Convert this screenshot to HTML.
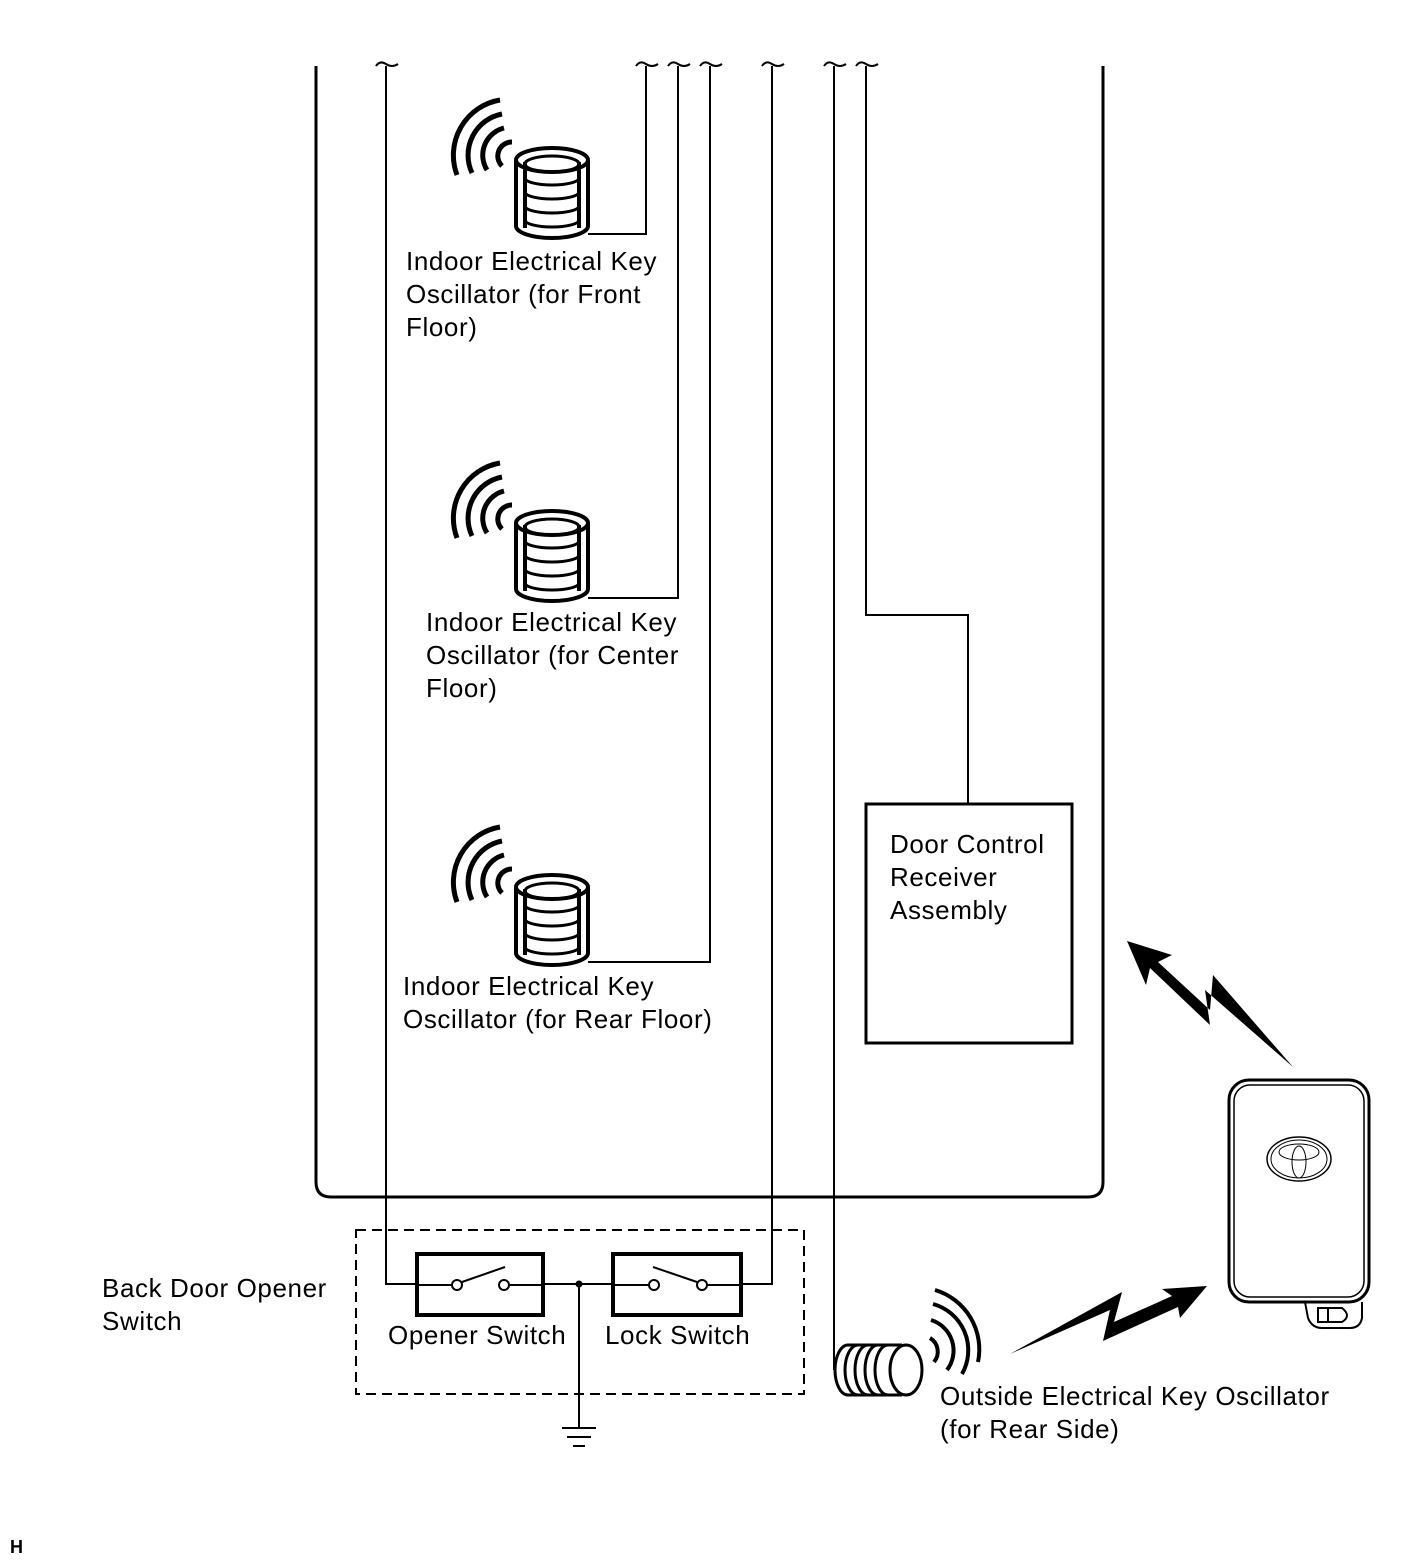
<!DOCTYPE html>
<html><head><style>
body{margin:0;background:#fff;width:1424px;height:1562px;overflow:hidden}
svg{position:absolute;left:0;top:0}
text{font-family:"Liberation Sans",Arial,sans-serif;font-size:26px;letter-spacing:0.6px;fill:#000}
</style></head><body>
<svg width="1424" height="1562" viewBox="0 0 1424 1562">
<defs>
<g id="coil" fill="none" stroke="#000">
  <path d="M-36,-40 L-36,26 A36,12 0 0 0 36,26 L36,-40" stroke-width="4" fill="#fff"/>
  <ellipse cx="0" cy="-40" rx="36" ry="12" stroke-width="4" fill="#fff"/>
  <path d="M-27,-38 L-27,28 M27,-38 L27,28" stroke-width="4"/>
  <ellipse cx="0" cy="-36" rx="27" ry="8" stroke-width="3"/>
  <path d="M-27,-22 A27,7 0 0 0 27,-22 M-27,-8 A27,7 0 0 0 27,-8 M-27,6 A27,7 0 0 0 27,6 M-27,20 A27,7 0 0 0 27,20" stroke-width="3"/>
  <path d="M-40,-58 A14,14 0 0 0 -50,-34" stroke-width="5"/>
  <path d="M-48,-72 A28,28 0 0 0 -65,-30" stroke-width="5"/>
  <path d="M-50,-86 A42,42 0 0 0 -80,-27" stroke-width="5"/>
  <path d="M-52,-100 A56,56 0 0 0 -95,-25" stroke-width="5"/>
</g>
</defs>
<g stroke="#000" fill="none" stroke-width="3">
  <path d="M316,66 L316,1182 Q316,1197 331,1197 L1088,1197 Q1103,1197 1103,1182 L1103,66"/>
  <g stroke-width="2">
    <path d="M386,66 L386,1284 L417,1284"/>
    <path d="M646,66 L646,234 L588,234"/>
    <path d="M678,66 L678,598 L588,598"/>
    <path d="M710,66 L710,962 L588,962"/>
    <path d="M772,66 L772,1284 L741,1284"/>
    <path d="M834,66 L834,1370"/>
    <path d="M866,66 L866,615 L968,615 L968,804"/>
    <path d="M543,1284 L613,1284"/>
    <path d="M579,1284 L579,1428"/>
    <path d="M376,66 Q380,60 386,64 Q392,68 398,64 M636,66 Q640,60 646,64 Q652,68 658,64 M668,66 Q672,60 678,64 Q684,68 690,64 M700,66 Q704,60 710,64 Q716,68 722,64 M762,66 Q766,60 772,64 Q778,68 784,64 M824,66 Q828,60 834,64 Q840,68 846,64 M856,66 Q860,60 866,64 Q872,68 878,64"/>
  </g>
  <path d="M562,1428 L596,1428 M567,1437 L591,1437 M573,1446 L585,1446" stroke-width="2"/>
  <circle cx="579" cy="1284" r="3.5" fill="#000" stroke-width="0"/>
  <rect x="356" y="1230" width="448" height="164" stroke-width="2" stroke-dasharray="10,6"/>
  <rect x="417" y="1254" width="126" height="61" stroke-width="4"/>
  <rect x="613" y="1254" width="128" height="61" stroke-width="4"/>
  <g stroke-width="2">
    <circle cx="457" cy="1285" r="5" fill="#fff"/>
    <circle cx="504" cy="1285" r="5" fill="#fff"/>
    <path d="M462,1282 L505,1267 M509,1285 L543,1285 M417,1285 L452,1285"/>
    <circle cx="654" cy="1285" r="5" fill="#fff"/>
    <circle cx="702" cy="1285" r="5" fill="#fff"/>
    <path d="M653,1267 L697,1282 M613,1285 L649,1285 M707,1285 L741,1285"/>
  </g>
  <rect x="866" y="804" width="206" height="239" stroke-width="3"/>
</g>
<use href="#coil" x="552" y="200"/>
<use href="#coil" x="552" y="563"/>
<use href="#coil" x="552" y="927"/>
<g fill="none" stroke="#000" stroke-width="3">
  <path d="M902,1345 L848,1345 A13,25 0 0 0 848,1395 L902,1395"/>
  <path d="M858,1345 A13,25 0 0 0 858,1395 M868,1345 A13,25 0 0 0 868,1395 M878,1345 A13,25 0 0 0 878,1395 M888,1345 A13,25 0 0 0 888,1395"/>
  <ellipse cx="906" cy="1370" rx="16" ry="25" fill="#fff"/>
  <g stroke-width="4">
    <path d="M930,1338 A16,16 0 0 1 934,1362"/>
    <path d="M931,1320 A32,32 0 0 1 947,1370"/>
    <path d="M933,1304 A48,48 0 0 1 962,1374"/>
    <path d="M935,1290 A62,62 0 0 1 978,1362"/>
  </g>
</g>
<path d="M1010,1354 L1122,1292 L1114,1322 L1172,1296 L1162,1289 L1207,1286 L1180,1318 L1178,1307 L1103,1341 L1110,1310 Z" fill="#000"/>
<path d="M1127,941 L1172,955 L1158,962 L1210,1010 L1213,975 L1293,1067 L1205,990 L1210,1025 L1150,968 L1146,985 Z" fill="#000"/>
<g fill="none" stroke="#000">
  <rect x="1229" y="1080" width="140" height="222" rx="20" stroke-width="3"/>
  <rect x="1234" y="1085" width="130" height="212" rx="16" stroke-width="1.5"/>
  <path d="M1305,1302 L1308,1318 Q1312,1328 1322,1328 L1350,1328 Q1360,1328 1362,1318 L1362,1302" stroke-width="2"/>
  <path d="M1318,1308 L1342,1308 Q1352,1316 1342,1322 L1318,1322 Z M1328,1308 L1328,1322" stroke-width="2"/>
  <ellipse cx="1299" cy="1159" rx="32" ry="22" stroke-width="1.5"/>
  <ellipse cx="1299" cy="1159" rx="28" ry="19" stroke-width="1"/>
  <ellipse cx="1299" cy="1152" rx="20" ry="8" stroke-width="1"/>
  <ellipse cx="1299" cy="1162" rx="7" ry="16" stroke-width="1"/>
</g>
<text x="406" y="270">Indoor Electrical Key</text>
<text x="406" y="303">Oscillator (for Front</text>
<text x="406" y="336">Floor)</text>
<text x="426" y="631">Indoor Electrical Key</text>
<text x="426" y="664">Oscillator (for Center</text>
<text x="426" y="697">Floor)</text>
<text x="403" y="995">Indoor Electrical Key</text>
<text x="403" y="1028">Oscillator (for Rear Floor)</text>
<text x="890" y="853">Door Control</text>
<text x="890" y="886">Receiver</text>
<text x="890" y="919">Assembly</text>
<text x="102" y="1297">Back Door Opener</text>
<text x="102" y="1330">Switch</text>
<text x="388" y="1344">Opener Switch</text>
<text x="605" y="1344">Lock Switch</text>
<text x="940" y="1405">Outside Electrical Key Oscillator</text>
<text x="940" y="1438">(for Rear Side)</text>
<text x="10" y="1553" style="font-size:18px;font-weight:bold;letter-spacing:0">H</text>
</svg>
</body></html>
